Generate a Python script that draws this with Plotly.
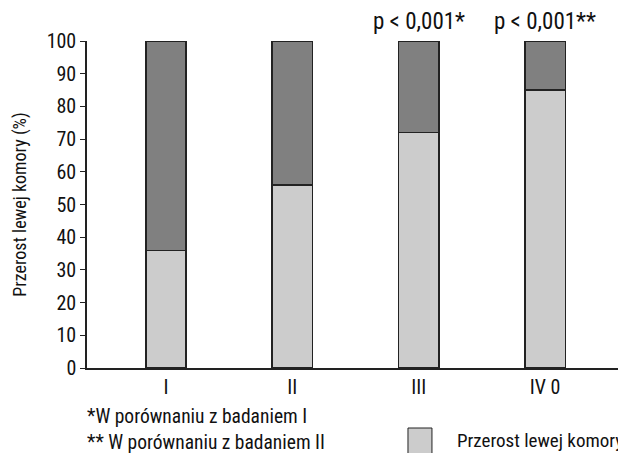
import plotly.graph_objects as go

categories = ["I", "II", "III", "IV 0"]
lvh_yes = [36, 56, 72, 85]
lvh_no = [64, 44, 28, 15]
p_labels = ["", "", "p < 0,001*", "p < 0,001**"]
legend_label = "Przerost lewej komory"
y_title = "Przerost lewej komory (%)"
footnotes = ["*W porównaniu z badaniem I", "** W porównaniu z badaniem II"]

FONT = "Roboto Condensed, Liberation Sans Narrow, sans-serif"
TXT = "#111111"
xpos = list(range(len(categories)))

fig = go.Figure()
fig.add_trace(go.Bar(x=xpos, y=lvh_yes, marker=dict(color="#cccccc", line=dict(color="#222222", width=1.5)),
                     width=0.32, name=legend_label, showlegend=False))
fig.add_trace(go.Bar(x=xpos, y=lvh_no, marker=dict(color="#808080", line=dict(color="#222222", width=1.5)),
                     width=0.32, showlegend=False))

for i, t in enumerate(p_labels):
    if t:
        fig.add_annotation(x=xpos[i], y=100, text=t, showarrow=False, yanchor="middle", yshift=20,
                           font=dict(size=23, color=TXT, family=FONT))

fig.add_annotation(xref="paper", yref="paper", x=-0.004, y=-0.148, xanchor="left", yanchor="middle",
                   text=footnotes[0], showarrow=False, font=dict(size=19.5, color=TXT, family=FONT))
fig.add_annotation(xref="paper", yref="paper", x=-0.004, y=-0.228, xanchor="left", yanchor="middle",
                   text=footnotes[1], showarrow=False, font=dict(size=19.5, color=TXT, family=FONT))
fig.add_shape(type="rect", xref="paper", yref="paper", x0=0.5955, x1=0.640, y0=-0.1835, y1=-0.262,
              fillcolor="#cccccc", line=dict(color="#222222", width=1))
fig.add_annotation(xref="paper", yref="paper", x=0.683, y=-0.223, xanchor="left", yanchor="middle",
                   text=legend_label, showarrow=False, font=dict(size=19, color=TXT, family=FONT))

fig.update_layout(
    barmode="stack",
    width=626, height=453,
    margin=dict(l=79, r=8, t=33, b=93),
    plot_bgcolor="white", paper_bgcolor="white",
    font=dict(family=FONT, size=19, color=TXT),
    xaxis=dict(range=[-0.625, 3.64], tickmode="array", tickvals=xpos, ticktext=categories,
               showline=True, linecolor="#222222", linewidth=1.5, ticks="", showgrid=False,
               zeroline=False, tickfont=dict(size=20)),
    yaxis=dict(range=[0, 100], dtick=10, showline=True, linecolor="#222222", linewidth=1.5,
               ticks="outside", ticklen=5, tickcolor="#222222", showgrid=False, zeroline=False,
               tickfont=dict(size=20), title=dict(text=y_title, font=dict(size=18), standoff=15)),
)

fig.write_html("out.html")
